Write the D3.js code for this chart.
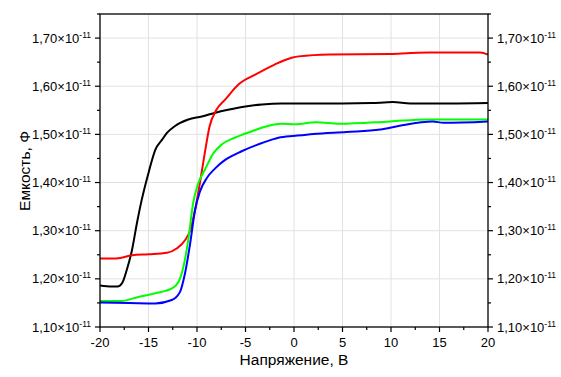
<!DOCTYPE html>
<html>
<head>
<meta charset="utf-8">
<script src="https://cdn.jsdelivr.net/npm/d3@7"></script>
<style>
  body { margin: 0; background: #fff; }
  text { font-family: "Liberation Sans", Arial, sans-serif; fill: #000; }
</style>
</head>
<body>
<svg id="chart" width="561" height="377"></svg>
<script>
// capacitance in units of 1e-11 F, voltage in V
const blackV = [-20, -18.8, -18.2, -17.7, -17.25, -16.7, -16.2, -15.7, -15.0, -14.3, -13.6, -13.1, -12.3, -10.9, -9.5, -8.1, -6.8, -5.0, -3.3, -1.3, 0.1, 5, 8, 10.2, 12, 16, 20];
const blackC = [1.186, 1.184, 1.184, 1.192, 1.218, 1.26, 1.315, 1.364, 1.42, 1.468, 1.489, 1.503, 1.517, 1.531, 1.537, 1.545, 1.551, 1.558, 1.562, 1.564, 1.564, 1.564, 1.565, 1.567, 1.564, 1.564, 1.565];

const redV = [-20, -18.3, -16.7, -15, -13.1, -12.1, -11.2, -10.7, -10.2, -9.7, -9.2, -8.7, -8.0, -7.1, -5.7, -4.0, -2.0, -0.24, 0.5, 3.7, 9.9, 12, 14, 19.2, 20];
const redC = [1.2425, 1.2425, 1.249, 1.251, 1.254, 1.263, 1.281, 1.301, 1.343, 1.399, 1.461, 1.517, 1.551, 1.572, 1.604, 1.624, 1.645, 1.659, 1.662, 1.666, 1.667, 1.669, 1.670, 1.670, 1.666];

const greenV = [-20, -17.8, -16.05, -14.3, -12.6, -11.9, -11.4, -10.9, -10.4, -9.86, -9.2, -8.3, -7.45, -6.1, -4.4, -2.6, -1.3, 0.1, 2.3, 4.7, 9.9, 13.7, 20];
const greenC = [1.154, 1.154, 1.1625, 1.170, 1.180, 1.194, 1.225, 1.281, 1.357, 1.399, 1.426, 1.461, 1.479, 1.493, 1.506, 1.518, 1.522, 1.521, 1.525, 1.522, 1.527, 1.531, 1.531];

const blueV = [-20, -17, -14.3, -12.6, -11.75, -11.24, -10.7, -10.2, -9.7, -9.0, -8.1, -7.1, -5.4, -3.3, -1.6, 0.1, 2.0, 5.4, 8.9, 10.9, 14.3, 15.4, 20];
const blueC = [1.151, 1.150, 1.149, 1.156, 1.173, 1.211, 1.274, 1.343, 1.381, 1.409, 1.430, 1.447, 1.465, 1.482, 1.493, 1.497, 1.501, 1.505, 1.510, 1.518, 1.527, 1.524, 1.527];

const series = [
  { v: blackV, c: blackC, color: "#000000" },
  { v: redV, c: redC, color: "#ff0000" },
  { v: greenV, c: greenC, color: "#00ff00" },
  { v: blueV, c: blueC, color: "#0000ff" }
];

const xTicks = [-20, -15, -10, -5, 0, 5, 10, 15, 20];
const yTicks = [1.10, 1.20, 1.30, 1.40, 1.50, 1.60, 1.70];
const xLabel = "Напряжение, В";
const yLabel = "Емкость, Ф";

const svg = d3.select("#chart");
const pL = 100, pR = 488, pT = 14, pB = 327;

const x = d3.scaleLinear().domain([-20, 20]).range([pL, pR]);
const y = d3.scaleLinear().domain([1.10, 1.75]).range([pB, pT]);

// grid
svg.append("g").selectAll("line").data(xTicks.slice(1, -1)).join("line")
  .attr("x1", d => x(d)).attr("x2", d => x(d))
  .attr("y1", pT).attr("y2", pB)
  .attr("stroke", "#e2e2e2").attr("stroke-width", 1);
svg.append("g").selectAll("line").data(yTicks.slice(1)).join("line")
  .attr("x1", pL).attr("x2", pR)
  .attr("y1", d => y(d)).attr("y2", d => y(d))
  .attr("stroke", "#e2e2e2").attr("stroke-width", 1);

// curves
const line = d3.line().x(d => x(d[0])).y(d => y(d[1])).curve(d3.curveMonotoneX);
const plot = svg.append("g");
plot.append("clipPath").attr("id", "clip").append("rect")
  .attr("x", pL).attr("y", pT).attr("width", pR - pL).attr("height", pB - pT);
series.forEach(s => {
  plot.append("path")
    .datum(d3.zip(s.v, s.c))
    .attr("clip-path", "url(#clip)")
    .attr("fill", "none")
    .attr("stroke", s.color)
    .attr("stroke-width", 2)
    .attr("stroke-linejoin", "round")
    .attr("d", line);
});

// frame
svg.append("rect")
  .attr("x", pL).attr("y", pT).attr("width", pR - pL).attr("height", pB - pT)
  .attr("fill", "none").attr("stroke", "#000").attr("stroke-width", 1.3);

const xMinor = d3.range(-17.5, 20, 5);
const yMinor = d3.range(1.15, 1.75, 0.1);

function tickLines(g, data, fn, len) {
  g.selectAll(null).data(data).join("line").each(function (d) {
    const p = fn(d, len);
    d3.select(this).attr("x1", p[0]).attr("y1", p[1]).attr("x2", p[2]).attr("y2", p[3]);
  }).attr("stroke", "#000").attr("stroke-width", 1.2);
}

const ticks = svg.append("g");
tickLines(ticks, xTicks, (d, l) => [x(d), pB, x(d), pB + l], 5);
tickLines(ticks, xMinor, (d, l) => [x(d), pB, x(d), pB + l], 3);
tickLines(ticks, yTicks, (d, l) => [pL, y(d), pL - l, y(d)], 5);
tickLines(ticks, yMinor, (d, l) => [pL, y(d), pL - l, y(d)], 3);
tickLines(ticks, yTicks, (d, l) => [pR, y(d), pR + l, y(d)], 5);
tickLines(ticks, yMinor, (d, l) => [pR, y(d), pR + l, y(d)], 3);

// x tick labels
svg.append("g").selectAll("text").data(xTicks).join("text")
  .attr("x", d => x(d)).attr("y", 347)
  .attr("text-anchor", "middle").attr("font-size", 13)
  .text(d => d);

// y tick labels
function yLab(sel) {
  sel.append("tspan").text(d => d3.format(".2f")(d).replace(".", ",") + "×10");
  sel.append("tspan").attr("dy", -5).attr("font-size", 8.5).text("-11");
}
svg.append("g").selectAll("text").data(yTicks).join("text")
  .attr("x", 91).attr("y", d => y(d) + 4.5)
  .attr("text-anchor", "end").attr("font-size", 13)
  .call(yLab);
svg.append("g").selectAll("text").data(yTicks).join("text")
  .attr("x", 497).attr("y", d => y(d) + 4.5)
  .attr("text-anchor", "start").attr("font-size", 13)
  .call(yLab);

// axis titles
svg.append("text").attr("x", x(0)).attr("y", 365)
  .attr("text-anchor", "middle").attr("font-size", 15.5).text(xLabel);
svg.append("text").attr("transform", "translate(30,171) rotate(-90)")
  .attr("text-anchor", "middle").attr("font-size", 15.5).text(yLabel);
</script>
</body>
</html>
